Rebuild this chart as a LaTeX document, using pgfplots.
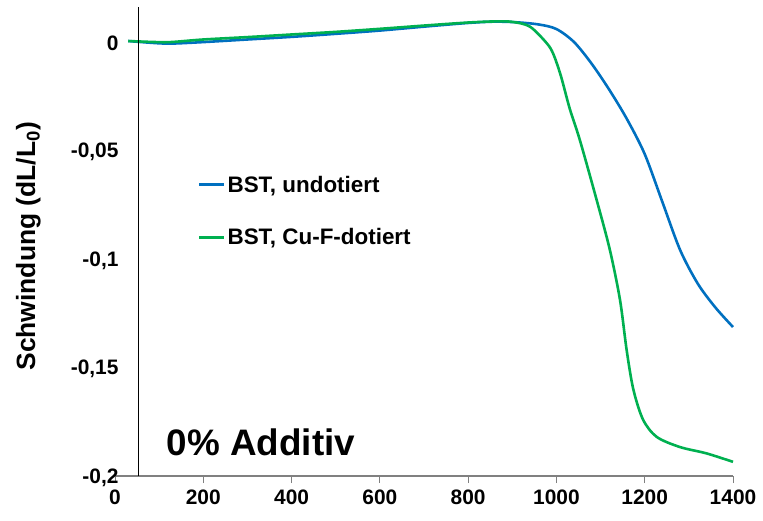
\documentclass[border=0pt]{standalone}
\usepackage{pgfplots}
\pgfplotsset{compat=1.18}
\usepackage{fontspec}
\setmainfont{Liberation Sans}

\definecolor{bstblue}{RGB}{0,112,192}
\definecolor{bstgreen}{RGB}{0,176,80}

\begin{document}
\begin{tikzpicture}
\path[use as bounding box] (0,0) rectangle (763bp,521bp);
\begin{axis}[
    at={(115bp,45bp)}, anchor=south west,
    scale only axis,
    width=618bp, height=468.7bp,
    xmin=0, xmax=1400,
    ymin=-0.2, ymax=0.0155,
    axis x line*=bottom,
    axis y line*=left,
    x axis line style={gray, line width=1.3bp},
    y axis line style={draw=none},
    xtick={0,200,...,1400},
    xticklabels={0,200,400,600,800,1000,1200,1400},
    ytick={-0.2,-0.15,-0.1,-0.05,0},
    yticklabels={{-0,2},{-0,15},{-0,1},{-0,05},0},
    xtick style={gray, line width=1bp},
    ytick style={draw=none},
    tick align=outside,
    major tick length=7bp,
    ticklabel style={font=\bfseries\fontsize{21}{23}\selectfont},
    xticklabel style={yshift=-3bp},
    yticklabel style={xshift=14bp, yshift=-2bp},
    ylabel={Schwindung (dL/L\textsubscript{0})},
    ylabel style={at={(axis description cs:-0.14,0.49)}, anchor=center,
                  font=\bfseries\fontsize{26.5}{28}\selectfont},
    clip=false,
    legend style={at={(axis description cs:0.134,0.645)}, anchor=north west,
                  draw=none, fill=none, inner sep=0pt,
                  font=\bfseries\fontsize{22.5}{24}\selectfont,
                  row sep=31bp},
    legend cell align=left,
    legend image code/.code={\draw[#1] (0bp,0bp) -- (25bp,0bp);},
]

\addplot[bstblue, line width=2.6bp, smooth] coordinates {
(30,0) (80,-0.0008) (125,-0.0012) (200,-0.0005) (300,0.0007) (400,0.0019)
(500,0.0033) (600,0.0048) (700,0.0066) (800,0.0083) (860,0.0089) (910,0.0086)
(960,0.0076) (1000,0.0055) (1040,-0.0005) (1080,-0.0105) (1120,-0.0225)
(1160,-0.036) (1200,-0.052) (1240,-0.074) (1280,-0.096) (1320,-0.1115)
(1360,-0.1225) (1400,-0.1315)
};
\addlegendentry{BST, undotiert}

\addplot[bstgreen, line width=2.6bp, smooth] coordinates {
(30,0) (80,-0.0004) (125,-0.0005) (200,0.0007) (300,0.0018) (400,0.003)
(500,0.0042) (600,0.0056) (700,0.0071) (800,0.0085) (860,0.009) (900,0.0088)
(940,0.0066) (978,-0.001) (993,-0.006) (1010,-0.016) (1030,-0.031)
(1053,-0.0455) (1091,-0.073) (1121,-0.096) (1144,-0.119) (1159,-0.142)
(1174,-0.160) (1196,-0.174) (1227,-0.182) (1280,-0.1867) (1340,-0.1896)
(1400,-0.1935)
};
\addlegendentry{BST, Cu-F-dotiert}

\draw[black, line width=0.9bp] (axis cs:52,-0.2) -- (axis cs:52,0.0155);
\node[anchor=base west, font=\bfseries\fontsize{37}{40}\selectfont]
    at (axis cs:109,-0.1905) {0\% Additiv};
\end{axis}
\end{tikzpicture}
\end{document}
